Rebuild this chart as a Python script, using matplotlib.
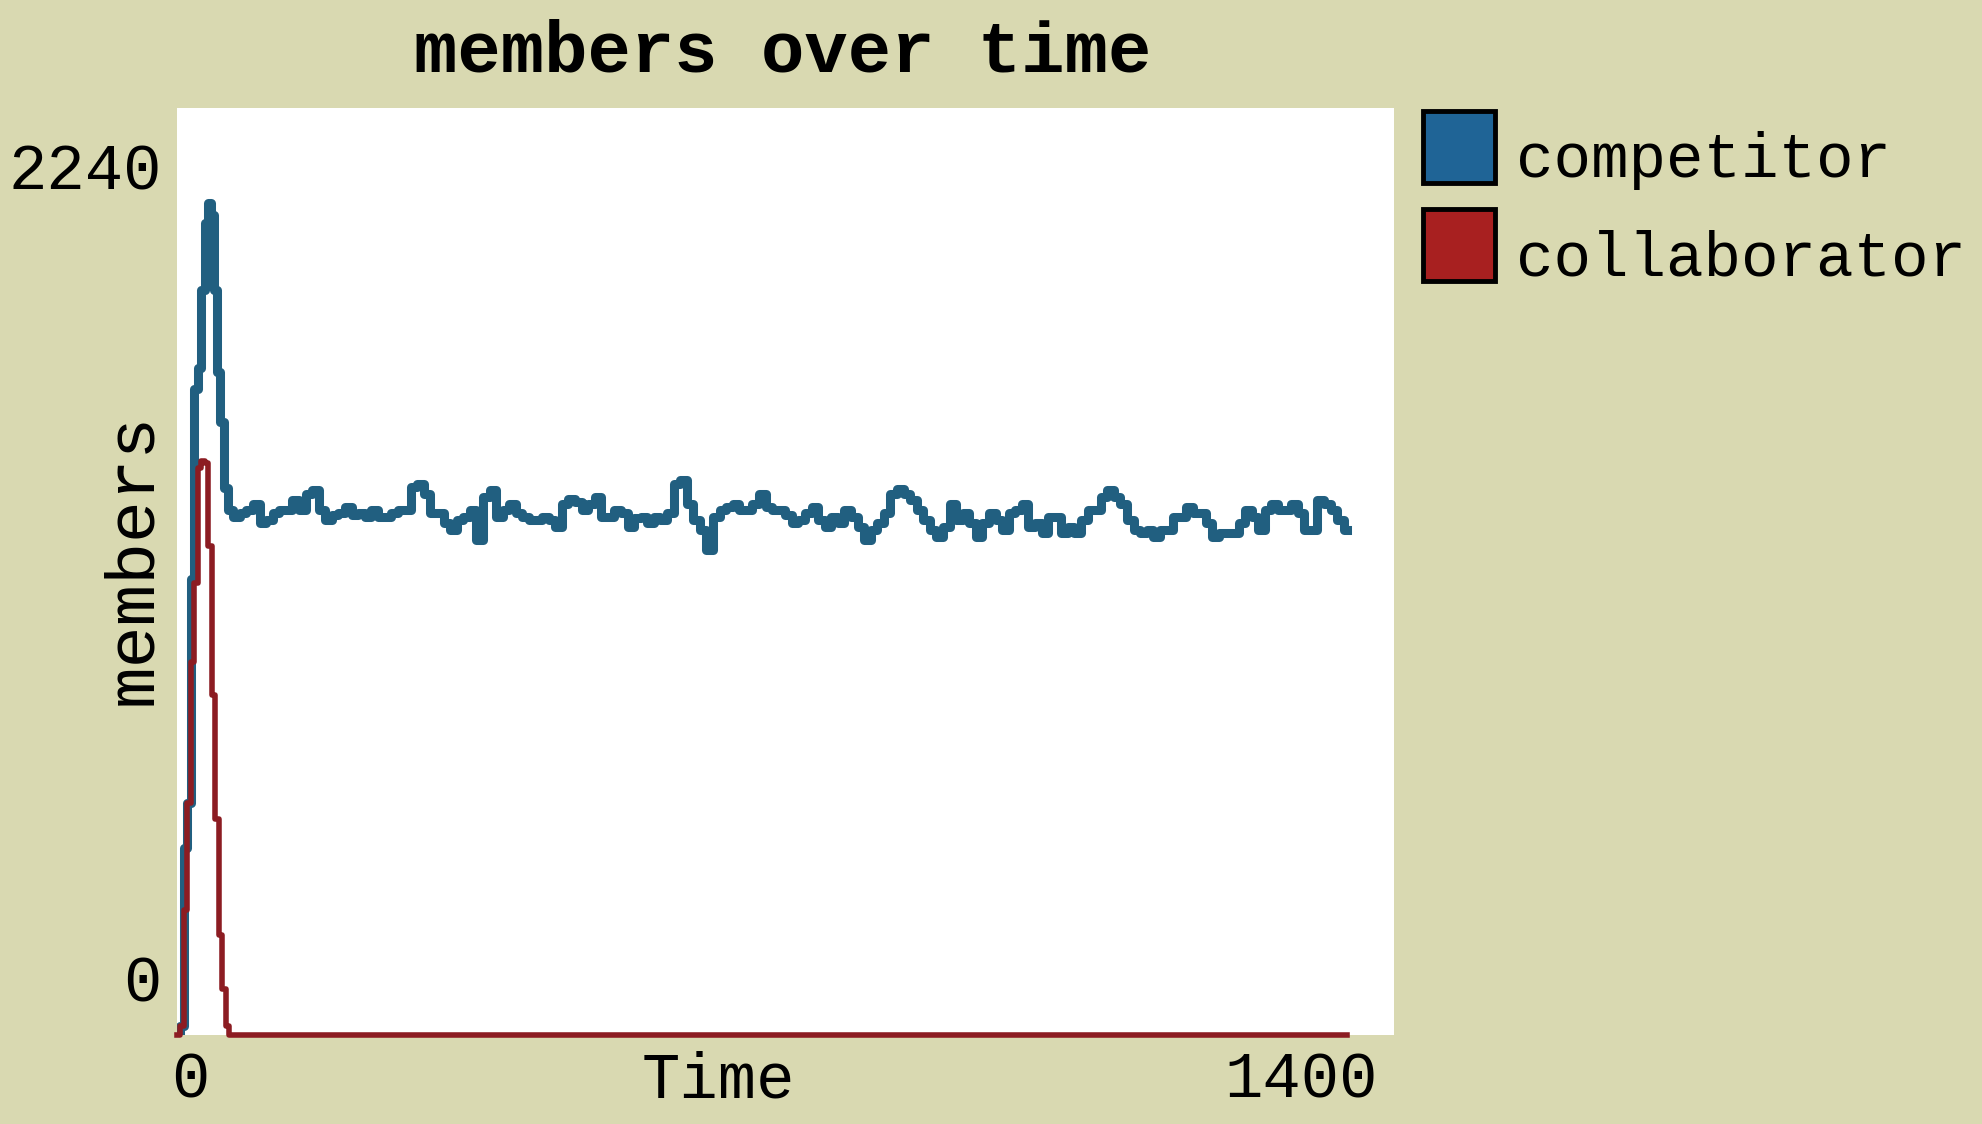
"""members over time: competitor vs collaborator counts (NetLogo-style plot)."""

import numpy as np
import matplotlib

matplotlib.use("Agg")
import matplotlib.pyplot as plt
from matplotlib.patches import Rectangle

W, H = 1983, 1124
BG = "#d9d9b1"
MONO = ["Liberation Mono", "DejaVu Sans Mono"]

series_names = ["competitor", "collaborator"]
series_colors = ["#215f80", "#8c1c22"]
legend_colors = ["#1f6496", "#a82020"]

x_max = 1400
y_max = 2240

# competitor: start-up burst, then the noisy plateau
comp_early_t = [0, 6, 10, 14, 18, 22, 26, 30, 34, 38, 41, 44, 48, 52, 56]
comp_early_v = [0, 20, 450, 560, 1100, 1560, 1610, 1800, 1960, 2010, 1980, 1800, 1600, 1480, 1320]

comp_plateau = [
    1267, 1251, 1259, 1267, 1283, 1235, 1243, 1259, 1267, 1267, 1291, 1267, 1307, 1315, 1267,
    1243, 1255, 1259, 1275, 1255, 1259, 1251, 1267, 1251, 1251, 1259, 1267, 1267, 1323,
    1331, 1307, 1259, 1259, 1235, 1219, 1243, 1251, 1267, 1195, 1299, 1315, 1251, 1267, 1283,
    1259, 1251, 1243, 1243, 1251, 1243, 1227, 1283, 1295, 1287, 1267, 1283, 1299, 1251,
    1251, 1267, 1259, 1227, 1247, 1251, 1235, 1251, 1243, 1259, 1331, 1339, 1283, 1243, 1219,
    1170, 1251, 1267, 1275, 1283, 1267, 1267, 1283, 1307, 1275, 1267, 1267, 1255, 1235,
    1243, 1259, 1275, 1243, 1227, 1251, 1235, 1267, 1251, 1227, 1195, 1219, 1235, 1259, 1307,
    1319, 1307, 1291, 1267, 1243, 1219, 1203, 1227, 1283, 1243, 1259, 1235, 1203, 1235,
    1259, 1243, 1219, 1259, 1267, 1283, 1227, 1235, 1211, 1251, 1251, 1211, 1227, 1211, 1243,
    1267, 1267, 1299, 1315, 1299, 1283, 1243, 1219, 1211, 1219, 1203, 1219, 1219, 1251,
    1251, 1275, 1259, 1259, 1235, 1203, 1211, 1211, 1211, 1235, 1267, 1251, 1219, 1267, 1283,
    1267, 1267, 1283, 1259, 1219, 1219, 1291, 1283, 1267, 1243, 1219,
]
plateau_start, plateau_end = 61, 1346

# collaborator: short burst, then extinct
coll_t = [0, 6, 10, 14, 18, 22, 26, 30, 34, 38, 42, 46, 50, 54, 58, 62, 1346]
coll_v = [0, 20, 300, 560, 900, 1090, 1370, 1385, 1380, 1180, 820, 520, 240, 110, 20, 0, 0]


def fx(x):
    return x / W


def fy(y):
    return 1 - y / H


comp_t = comp_early_t + list(np.linspace(plateau_start, plateau_end, len(comp_plateau)))
comp_v = comp_early_v + comp_plateau

fig = plt.figure(figsize=(W / 100, H / 100), dpi=100, facecolor=BG)
left, right, top, bottom = 177, 1394, 107.5, 1034.5
ax = fig.add_axes([fx(left), fy(bottom), fx(right - left), (bottom - top) / H])
ax.set_facecolor("white")
for s in ax.spines.values():
    s.set_visible(False)
ax.set_xticks([])
ax.set_yticks([])
ax.set_xlim(0, x_max)
ax.set_ylim(0, y_max)

# stepped drawing mimics the pixel-plotted look of the original
ax.plot(comp_t, comp_v, color=series_colors[0], lw=6.5, drawstyle="steps-mid",
        solid_joinstyle="round")
ax.plot(coll_t, coll_v, color=series_colors[1], lw=4.0, drawstyle="steps-mid",
        clip_on=False)

# title and axis labels
fig.text(fx(783), fy(53), "members over time", ha="center", va="center",
         family=MONO, fontsize=52, fontweight="bold")
fig.text(fx(133), fy(559), "members", ha="center", va="center", rotation=90,
         family=MONO, fontsize=50)
fig.text(fx(718), fy(1081), "Time", ha="center", va="center", family=MONO, fontsize=46)

# axis range labels
fig.text(fx(162), fy(172), f"{y_max}", ha="right", va="center", family=MONO, fontsize=46)
fig.text(fx(162), fy(984), "0", ha="right", va="center", family=MONO, fontsize=46)
fig.text(fx(190), fy(1081), "0", ha="center", va="center", family=MONO, fontsize=46)
fig.text(fx(1378), fy(1081), f"{x_max}", ha="right", va="center", family=MONO, fontsize=46)

# legend
for i, (name, col) in enumerate(zip(series_names, legend_colors)):
    y0 = 111 + i * 98
    fig.add_artist(Rectangle((fx(1423), fy(y0 + 72)), fx(72), 72 / H,
                             facecolor=col, edgecolor="black", lw=3.5,
                             transform=fig.transFigure))
    fig.text(fx(1516), fy(y0 + 50), name, ha="left", va="center", family=MONO, fontsize=45)

fig.savefig("out.png", dpi=100, facecolor=BG)
